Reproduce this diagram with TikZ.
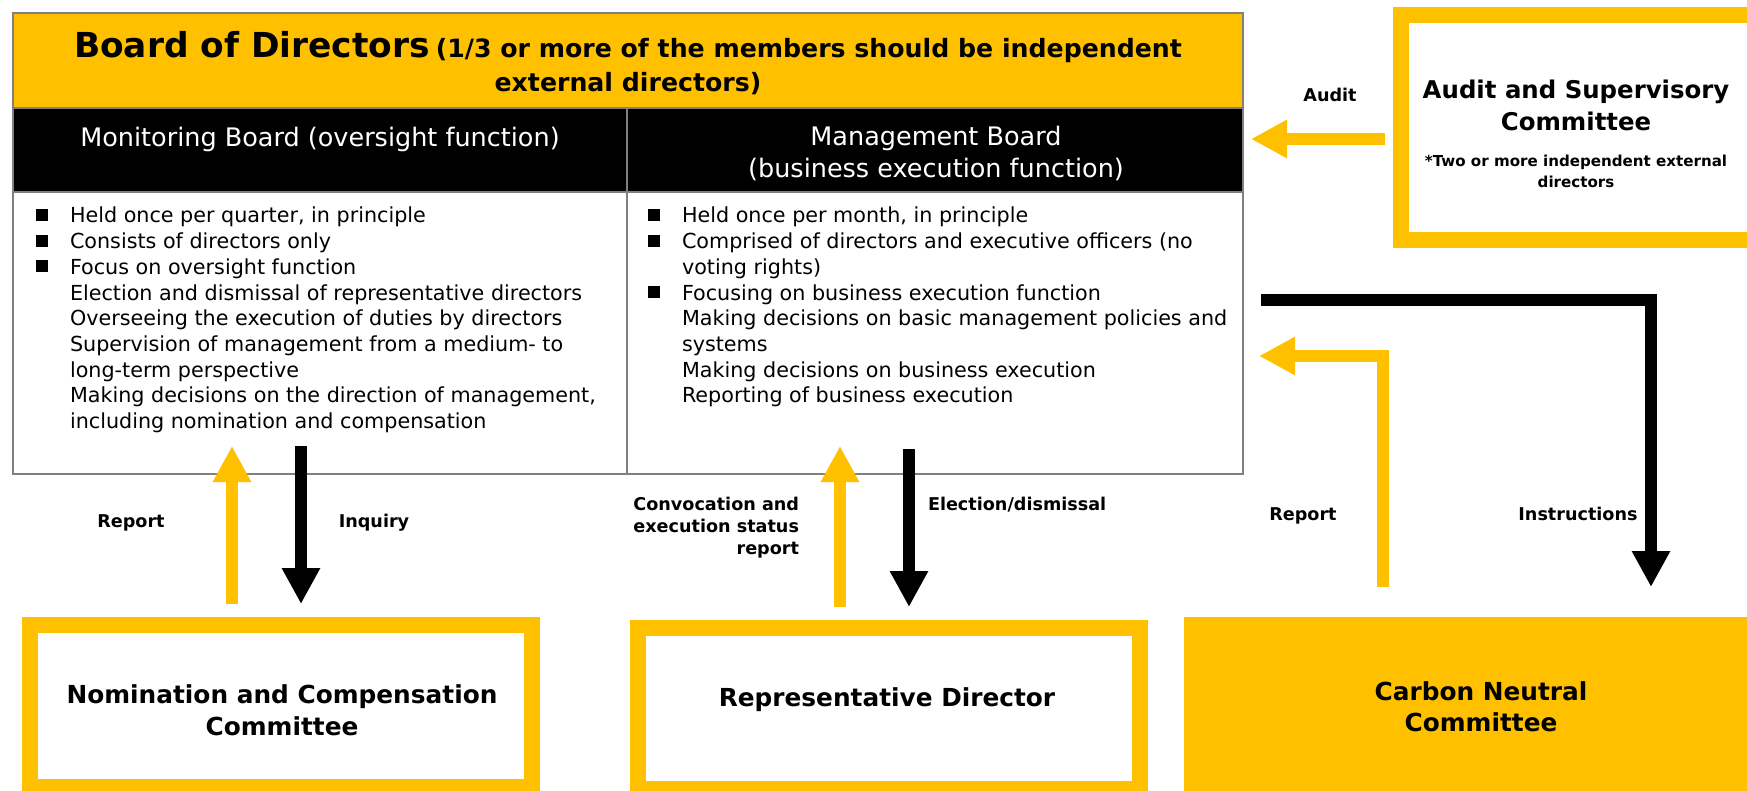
\documentclass[tikz,border=0pt]{standalone}
\usepackage{fontspec}
\setmainfont{DejaVu Sans}
\usetikzlibrary{arrows.meta,fit}
\definecolor{amber}{HTML}{FFC000}
\definecolor{framegray}{HTML}{808080}
\newcommand{\sqbul}{\llap{\rule[1pt]{6pt}{6pt}\hspace{11pt}}}
\begin{document}
\begin{tikzpicture}[x=0.5pt,y=-0.5pt,
  txt/.style={inner sep=0pt, outer sep=0pt, anchor=base},
  body/.style={txt, anchor=base west, font=\fontsize{10.35}{12.85}\selectfont},
  head/.style={txt, text=white, font=\fontsize{12.75}{16}\selectfont},
  boxtitle/.style={txt, font=\bfseries\fontsize{12.4}{16}\selectfont},
  lbl/.style={txt, font=\bfseries\fontsize{8.8}{11}\selectfont},
  ybox/.style={draw=amber, line width=8pt, fill=white, inner sep=0pt},
  yarr/.style={draw=amber, line width=6pt, -{Triangle[length=18pt,width=18pt]}},
  karr/.style={draw=black, line width=6pt, -{Triangle[length=18pt,width=18pt]}}]
\useasboundingbox (0,0) rectangle (1747,791);
\clip (0,0) rectangle (1747,791);

% ---------- Board of Directors ----------
\fill[amber] (13,13) rectangle (1243,108);
\fill[black] (13,108) rectangle (1243,192);
\node[draw=framegray, line width=1pt, inner sep=0pt, fit={(13,13) (1243,474)}] (board) {};
\draw[framegray, line width=1pt] (13,108) -- (1243,108) (13,192) -- (1243,192) (627,108) -- (627,474);

\node[txt] (title1) at (628,58) {\bfseries{\fontsize{17.2}{20}\selectfont Board of Directors}\hspace{3pt}{\fontsize{12.6}{15}\selectfont (1/3 or more of the members should be independent}};
\node[txt, font=\bfseries\fontsize{12.6}{15}\selectfont] (title2) at (628,92) {external directors)};

\node[head] (mon) at (320,147) {Monitoring Board (oversight function)};
\node[head] (man1) at (936,146) {Management Board};
\node[head] (man2) at (936,178) {(business execution function)};

% left column
\node[body] (l1) at (70,223) {\sqbul Held once per quarter, in principle};
\node[body] (l2) at (70,248.7) {\sqbul Consists of directors only};
\node[body] (l3) at (70,274.4) {\sqbul Focus on oversight function};
\node[body] (l4) at (70,300.1) {Election and dismissal of representative directors};
\node[body] (l5) at (70,325.8) {Overseeing the execution of duties by directors};
\node[body] (l6) at (70,351.5) {Supervision of management from a medium- to};
\node[body] (l7) at (70,377.2) {long-term perspective};
\node[body] (l8) at (70,402.9) {Making decisions on the direction of management,};
\node[body] (l9) at (70,428.6) {including nomination and compensation};

% right column
\node[body] (r1) at (682,223) {\sqbul Held once per month, in principle};
\node[body] (r2) at (682,248.7) {\sqbul Comprised of directors and executive officers (no};
\node[body] (r3) at (682,274.4) {voting rights)};
\node[body] (r4) at (682,300.1) {\sqbul Focusing on business execution function};
\node[body] (r5) at (682,325.8) {Making decisions on basic management policies and};
\node[body] (r6) at (682,351.5) {systems};
\node[body] (r7) at (682,377.2) {Making decisions on business execution};
\node[body] (r8) at (682,402.9) {Reporting of business execution};

% ---------- Audit and Supervisory Committee ----------
\node[ybox, fit={(1401,15) (1755,240)}] (audit) {};
\node[boxtitle, font=\bfseries\fontsize{12.2}{16}\selectfont] (au1) at (1576,99) {Audit and Supervisory};
\node[boxtitle, font=\bfseries\fontsize{12.2}{16}\selectfont] (au2) at (1576,131) {Committee};
\node[txt, font=\bfseries\fontsize{7.55}{11}\selectfont] (au3) at (1576,167) {*Two or more independent external};
\node[txt, font=\bfseries\fontsize{7.55}{11}\selectfont] (au4) at (1576,188) {directors};

% ---------- bottom boxes ----------
\node[ybox, fit={(30,625) (532,787)}] (nc) {};
\node[boxtitle] (nc1) at (282,703) {Nomination and Compensation};
\node[boxtitle] (nc2) at (282,735) {Committee};

\node[ybox, fit={(638,628) (1140,789)}] (rd) {};
\node[boxtitle] (rd1) at (887,706) {Representative Director};

\node[fill=amber, inner sep=0pt, fit={(1184,617) (1760,800)}] (cn) {};
\node[boxtitle] (cn1) at (1481,700) {Carbon Neutral};
\node[boxtitle] (cn2) at (1481,731) {Committee};

% ---------- arrows ----------
\coordinate (auS) at (1385,139); \coordinate (auE) at (1251,139);
\draw[yarr] (auS) -- (auE);
\node[lbl] (auL) at (1330,102) {Audit};

\coordinate (rpS) at (232,604); \coordinate (rpE) at (232,446);
\draw[yarr] (rpS) -- (rpE);
\node[lbl] (rpL) at (131,527) {Report};

\coordinate (inS) at (301,446); \coordinate (inE) at (301,604);
\draw[karr] (inS) -- (inE);
\node[lbl] (inL) at (374,527) {Inquiry};

\coordinate (cvS) at (840,607); \coordinate (cvE) at (840,446);
\draw[yarr] (cvS) -- (cvE);
\node[lbl, anchor=base east] (cv1) at (799,510) {Convocation and};
\node[lbl, anchor=base east] (cv2) at (799,532) {execution status};
\node[lbl, anchor=base east] (cv3) at (799,554) {report};

\coordinate (elS) at (909,449); \coordinate (elE) at (909,607);
\draw[karr] (elS) -- (elE);
\node[lbl, anchor=base west] (elL) at (928,510) {Election/dismissal};

\coordinate (r2S) at (1383,587); \coordinate (r2C) at (1383,356); \coordinate (r2E) at (1259,356);
\draw[yarr] (r2S) -- (r2C) -- (r2E);
\node[lbl] (r2L) at (1303,520) {Report};

\coordinate (isS) at (1261,300); \coordinate (isC) at (1651,300); \coordinate (isE) at (1651,587);
\draw[karr] (isS) -- (isC) -- (isE);
\node[lbl] (isL) at (1578,520) {Instructions};
\end{tikzpicture}
\end{document}
